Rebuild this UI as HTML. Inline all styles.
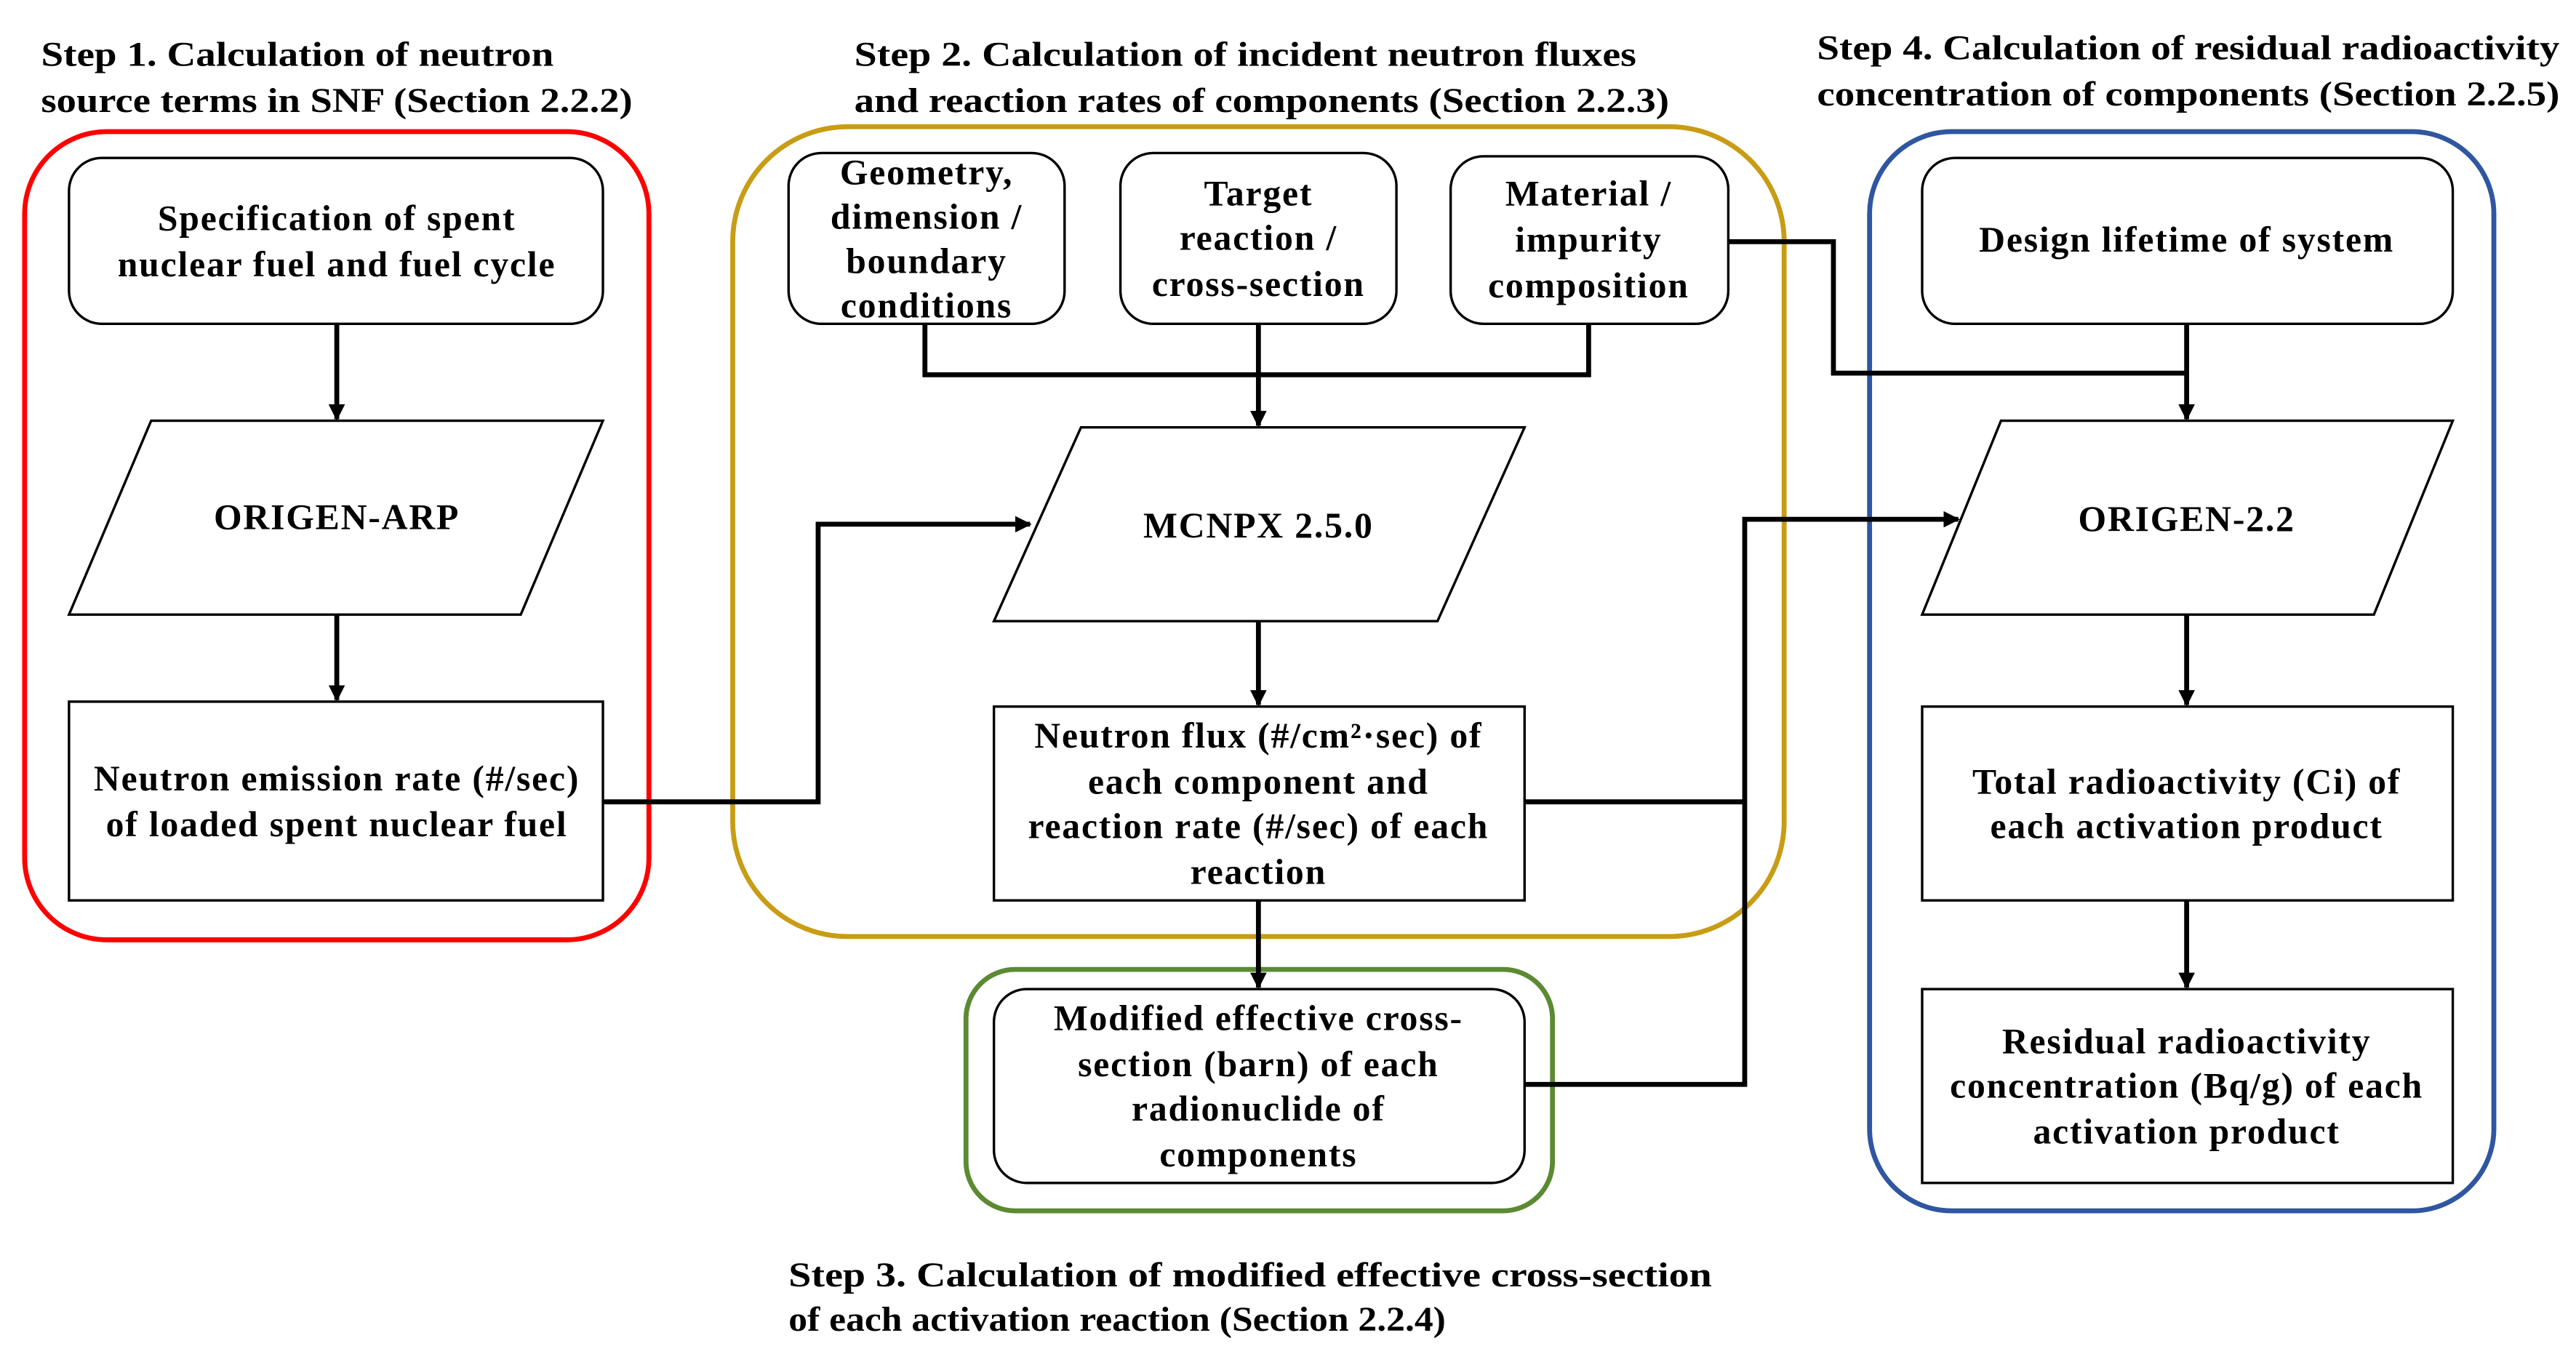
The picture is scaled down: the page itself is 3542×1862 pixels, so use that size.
<!DOCTYPE html>
<html><head><meta charset="utf-8"><style>html,body{margin:0;padding:0;background:#fff}svg{display:block}</style></head>
<body>
<svg width="3542" height="1862" viewBox="0 0 1568 824" xmlns="http://www.w3.org/2000/svg" font-family="'Liberation Serif', serif" font-weight="bold" font-size="21">
<defs><marker id="a" markerWidth="10" markerHeight="10" refX="9" refY="5" orient="auto" markerUnits="userSpaceOnUse"><path d="M0,0 L10,5 L0,10 z" fill="#000"/></marker></defs>
<rect x="0" y="0" width="1568" height="824" fill="#fff"/>
<!-- titles -->
<text x="25" y="40" textLength="312" lengthAdjust="spacingAndGlyphs">Step 1. Calculation of neutron</text>
<text x="25" y="68" textLength="360" lengthAdjust="spacingAndGlyphs">source terms in SNF (Section 2.2.2)</text>
<text x="520" y="40" textLength="476" lengthAdjust="spacingAndGlyphs">Step 2. Calculation of incident neutron fluxes</text>
<text x="520" y="68" textLength="496" lengthAdjust="spacingAndGlyphs">and reaction rates of components (Section 2.2.3)</text>
<text x="1106" y="36" textLength="452" lengthAdjust="spacingAndGlyphs">Step 4. Calculation of residual radioactivity</text>
<text x="1106" y="64" textLength="452" lengthAdjust="spacingAndGlyphs">concentration of components (Section 2.2.5)</text>
<text x="480" y="783" textLength="562" lengthAdjust="spacingAndGlyphs">Step 3. Calculation of modified effective cross-section</text>
<text x="480" y="810" textLength="400" lengthAdjust="spacingAndGlyphs">of each activation reaction (Section 2.2.4)</text>
<!-- group boxes -->
<rect x="15" y="80" width="380" height="492" rx="50" fill="none" stroke="#f00" stroke-width="3"/>
<rect x="446" y="77" width="640" height="493" rx="70" fill="none" stroke="#c89c14" stroke-width="3"/>
<rect x="588" y="590" width="357" height="147" rx="30" fill="none" stroke="#5b8a32" stroke-width="3"/>
<rect x="1138" y="80" width="380" height="657" rx="50" fill="none" stroke="#2f56a0" stroke-width="3"/>
<g fill="#fff" stroke="#000" stroke-width="1.5">
<rect x="42" y="96" width="325" height="101" rx="20"/>
<polygon points="92,256 367,256 317,374 42,374"/>
<rect x="42" y="427" width="325" height="121"/>
<rect x="480" y="93" width="168" height="104" rx="20"/>
<rect x="682" y="93" width="168" height="104" rx="20"/>
<rect x="883" y="95" width="169" height="102" rx="20"/>
<polygon points="658,260 928,260 875,378 605,378"/>
<rect x="605" y="430" width="323" height="118"/>
<rect x="605" y="602" width="323" height="118" rx="20"/>
<rect x="1170" y="96" width="323" height="101" rx="20"/>
<polygon points="1218,256 1493,256 1445,374 1170,374"/>
<rect x="1170" y="430" width="323" height="118"/>
<rect x="1170" y="602" width="323" height="118"/>
</g>
<!-- connectors -->
<g fill="none" stroke="#000" stroke-width="3">
<line x1="205" y1="197" x2="205" y2="255" marker-end="url(#a)"/>
<line x1="205" y1="374" x2="205" y2="426" marker-end="url(#a)"/>
<polyline points="367,488 498,488 498,319 627,319" marker-end="url(#a)"/>
<polyline points="563,197 563,228 967,228 967,197"/>
<line x1="766" y1="197" x2="766" y2="259" marker-end="url(#a)"/>
<line x1="766" y1="378" x2="766" y2="429" marker-end="url(#a)"/>
<line x1="766" y1="548" x2="766" y2="601" marker-end="url(#a)"/>
<polyline points="928,488 1062,488"/>
<polyline points="928,660 1062,660 1062,316 1192,316" marker-end="url(#a)"/>
<polyline points="1052,147 1116,147 1116,227 1331,227"/>
<line x1="1331" y1="197" x2="1331" y2="255" marker-end="url(#a)"/>
<line x1="1331" y1="374" x2="1331" y2="429" marker-end="url(#a)"/>
<line x1="1331" y1="548" x2="1331" y2="601" marker-end="url(#a)"/>
</g>
<g text-anchor="middle" font-size="22" letter-spacing="0.8">
<text x="205" y="140">Specification of spent</text>
<text x="205" y="168">nuclear fuel and fuel cycle</text>
<text x="205" y="322">ORIGEN-ARP</text>
<text x="205" y="481">Neutron emission rate (#/sec)</text>
<text x="205" y="509">of loaded spent nuclear fuel</text>
<text x="564" y="112">Geometry,</text>
<text x="564" y="139">dimension /</text>
<text x="564" y="166">boundary</text>
<text x="564" y="193">conditions</text>
<text x="766" y="125">Target</text>
<text x="766" y="152">reaction /</text>
<text x="766" y="180">cross-section</text>
<text x="967" y="125">Material /</text>
<text x="967" y="153">impurity</text>
<text x="967" y="181">composition</text>
<text x="766" y="327">MCNPX 2.5.0</text>
<text x="766" y="455">Neutron flux (#/cm²·sec) of</text>
<text x="766" y="483">each component and</text>
<text x="766" y="510">reaction rate (#/sec) of each</text>
<text x="766" y="538">reaction</text>
<text x="766" y="627">Modified effective cross-</text>
<text x="766" y="655">section (barn) of each</text>
<text x="766" y="682">radionuclide of</text>
<text x="766" y="710">components</text>
<text x="1331" y="153">Design lifetime of system</text>
<text x="1331" y="323">ORIGEN-2.2</text>
<text x="1331" y="483">Total radioactivity (Ci) of</text>
<text x="1331" y="510">each activation product</text>
<text x="1331" y="641">Residual radioactivity</text>
<text x="1331" y="668">concentration (Bq/g) of each</text>
<text x="1331" y="696">activation product</text>
</g>
</svg>
</body></html>
